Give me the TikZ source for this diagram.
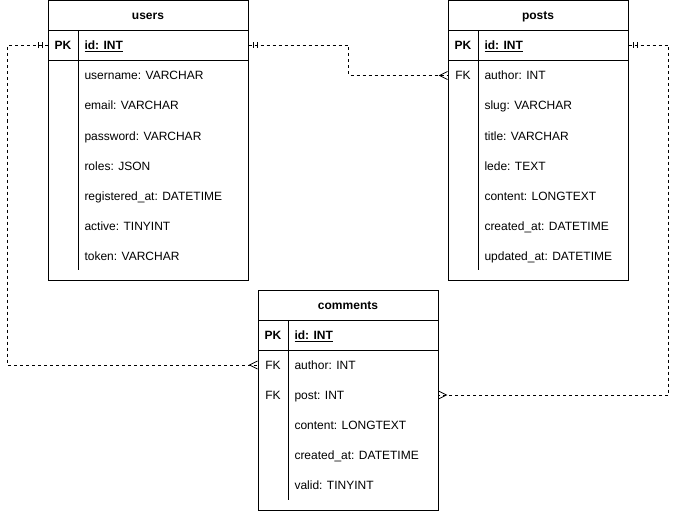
\documentclass[tikz,border=0pt]{standalone}
\usepackage{fontspec}
\setmainfont{Liberation Sans}
\begin{document}
\begin{tikzpicture}[x=1pt,y=-1pt,line width=1pt,
  tbl/.style={draw=black,fill=white,anchor=north west,inner sep=0pt},
  hdr/.style={font=\fontsize{12}{14}\selectfont\bfseries,inner sep=0pt,text height=10pt,text depth=1pt},
  keytxt/.style={font=\fontsize{12}{14}\selectfont,inner sep=0pt,text height=10pt,text depth=1pt},
  fld/.style={font=\fontsize{12}{14}\selectfont,inner sep=0pt,anchor=west,text height=10pt,text depth=1pt},
  rowbox/.style={minimum height=30pt,inner sep=0pt,draw=none},
  rel/.style={draw=black,line width=0.8pt,dash pattern=on 3pt off 3pt},
  mone/.pic={\draw[solid,line width=0.8pt] (5,-3) -- (5,3) (9,-3) -- (9,3);},
  crow/.pic={\draw[solid,line width=0.8pt] (0,-4) -- (8,0) -- (0,4);}
]
\useasboundingbox (0,0) rectangle (678,511);
% ---------- users ----------
\node[tbl,minimum width=200pt,minimum height=279.5pt] (users) at (48,0.5) {};
\node[hdr] (users-h) at (148,15.5) {users};
\draw (48,30.5) -- (248,30.5) (48,60.5) -- (248,60.5);
\draw (78,30.5) -- (78,60.5) (78,60.5) -- (78,270);
\node[rowbox,minimum width=200pt] (u-id) at (148,45.5) {};
\node[keytxt,font=\fontsize{12}{14}\selectfont\bfseries] (u-pk) at (63,45.5) {PK};
\node[fld,font=\fontsize{12}{14}\selectfont\bfseries] (u-idt) at (84,45.5) {\underline{id: INT}};
\foreach \t [count=\i] in {username: VARCHAR,email: VARCHAR,password: VARCHAR,roles: JSON,registered\_at: DATETIME,active: TINYINT,token: VARCHAR}
  \node[fld] (u-r\i) at (84,45.5+30*\i) {\t};
% ---------- posts ----------
\node[tbl,minimum width=180pt,minimum height=279.5pt] (posts) at (448,0.5) {};
\node[hdr] (posts-h) at (538,15.5) {posts};
\draw (448,30.5) -- (628,30.5) (448,60.5) -- (628,60.5);
\draw (478,30.5) -- (478,60.5) (478,60.5) -- (478,270);
\node[rowbox,minimum width=180pt] (p-id) at (538,45.5) {};
\node[rowbox,minimum width=180pt] (p-author) at (538,75.5) {};
\node[keytxt,font=\fontsize{12}{14}\selectfont\bfseries] (p-pk) at (463,45.5) {PK};
\node[keytxt] (p-fk) at (463,75.5) {FK};
\node[fld,font=\fontsize{12}{14}\selectfont\bfseries] (p-idt) at (484,45.5) {\underline{id: INT}};
\foreach \t [count=\i] in {author: INT,slug: VARCHAR,title: VARCHAR,lede: TEXT,content: LONGTEXT,created\_at: DATETIME,updated\_at: DATETIME}
  \node[fld] (p-r\i) at (484,45.5+30*\i) {\t};
% ---------- comments ----------
\node[tbl,minimum width=180pt,minimum height=220pt] (comments) at (258,290) {};
\node[hdr] (comments-h) at (348,305) {comments};
\draw (258,320) -- (438,320) (258,350) -- (438,350);
\draw (288,320) -- (288,350) (288,350) -- (288,500);
\node[rowbox,minimum width=180pt] (c-author) at (348,365) {};
\node[rowbox,minimum width=180pt] (c-post) at (348,395) {};
\node[keytxt,font=\fontsize{12}{14}\selectfont\bfseries] (c-pk) at (273,335) {PK};
\node[keytxt] (c-fk1) at (273,365) {FK};
\node[keytxt] (c-fk2) at (273,395) {FK};
\node[fld,font=\fontsize{12}{14}\selectfont\bfseries] (c-idt) at (294,335) {\underline{id: INT}};
\foreach \t [count=\i] in {author: INT,post: INT,content: LONGTEXT,created\_at: DATETIME,valid: TINYINT}
  \node[fld] (c-r\i) at (294,335+30*\i) {\t};
% ---------- relations ----------
\draw[rel] (u-id.west) -| ([xshift=-250pt]c-author.west) -- (c-author.west);
\draw[rel] (u-id.east) -- ++(100,0) |- (p-author.west);
\draw[rel] (p-id.east) -- ++(40,0) |- (c-post.east);
\pic[rotate=180] at (u-id.west) {mone};
\pic at (u-id.east) {mone};
\pic at (p-id.east) {mone};
\pic[rotate=180] at (p-author.west) {crow};
\pic[rotate=180] at (c-author.west) {crow};
\pic at (c-post.east) {crow};
\end{tikzpicture}
\end{document}
